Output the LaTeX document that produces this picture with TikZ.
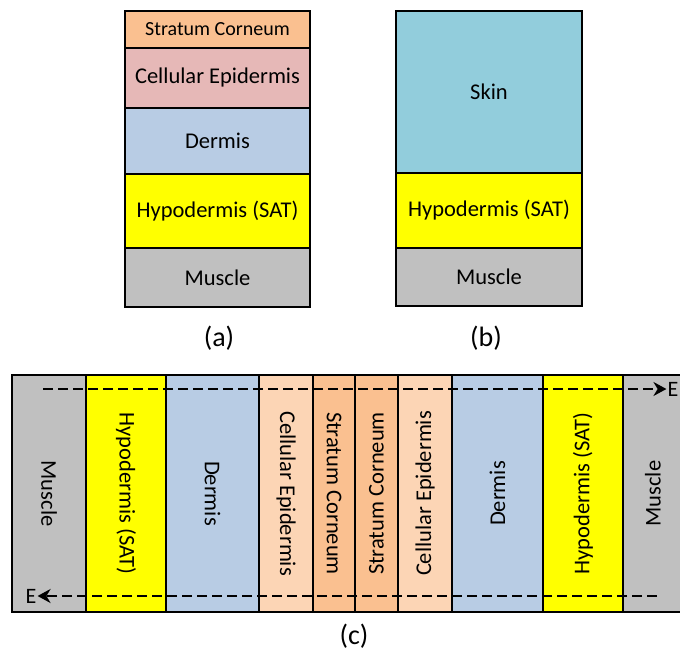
\documentclass[tikz,border=0pt]{standalone}
\usepackage{fontspec}
\setmainfont{Carlito}
\usetikzlibrary{arrows.meta, positioning}
\definecolor{stratcol}{RGB}{250, 192, 144}
\definecolor{epicol}{RGB}{230, 184, 183}
\definecolor{epilight}{RGB}{252, 213, 181}
\definecolor{dermcol}{RGB}{184, 204, 228}
\definecolor{hypocol}{RGB}{255, 255, 0}
\definecolor{musccol}{RGB}{192, 192, 192}
\definecolor{skincol}{RGB}{146, 205, 220}

\begin{document}
\begin{tikzpicture}[
    x=1pt, y=-1pt,
    layer/.style = {rectangle, draw=black, line width=2pt, inner sep=0pt,
                    text centered, font=\fontsize{22.5}{25}\selectfont},
    layerL/.style = {layer, rotate=-90, minimum width=237pt},
    layerR/.style = {layer, rotate=90, minimum width=237pt},
    caption/.style = {font=\fontsize{28}{32}\selectfont},
    efield/.style = {line width=2.6pt, dash pattern=on 10pt off 5pt, -{Stealth[length=13pt, width=14pt]}},
    elabel/.style = {font=\fontsize{22}{25}\selectfont, inner sep=1pt}
]
    \useasboundingbox (0,0) rectangle (680,655);
    \clip (0,0) rectangle (680,655);

    % (a) full layer stack
    \node[layer, fill=stratcol, minimum width=185pt, minimum height=37pt, font=\fontsize{20}{22}\selectfont] (a_strat) at (217.5,29.5) {Stratum Corneum};
    \node[layer, fill=epicol, minimum width=185pt, minimum height=60pt] (a_epi) at (217.5,78) {Cellular Epidermis};
    \node[layer, fill=dermcol, minimum width=185pt, minimum height=66pt] (a_derm) at (217.5,141) {Dermis};
    \node[layer, fill=hypocol, minimum width=185pt, minimum height=74pt] (a_hypo) at (217.5,211) {Hypodermis (SAT)};
    \node[layer, fill=musccol, minimum width=185pt, minimum height=59pt] (a_musc) at (217.5,277.5) {Muscle};
    \node[caption] (cap_a) at (219,338) {(a)};

    % (b) skin lumped together
    \node[layer, fill=skincol, minimum width=186pt, minimum height=162pt] (b_skin) at (489,92) {Skin};
    \node[layer, fill=hypocol, minimum width=186pt, minimum height=75pt] (b_hypo) at (489,210.5) {Hypodermis (SAT)};
    \node[layer, fill=musccol, minimum width=186pt, minimum height=58pt] (b_musc) at (489,277) {Muscle};
    \node[caption] (cap_b) at (486,338) {(b)};

    % (c) mirrored layers, left half
    \node[layerL, fill=musccol, minimum height=74pt] (c_musc_l) at (49,493.5) {Muscle};
    \node[layerL, fill=hypocol, minimum height=80pt] (c_hypo_l) at (126,493.5) {Hypodermis (SAT)};
    \node[layerL, fill=dermcol, minimum height=93pt] (c_derm_l) at (212.5,493.5) {Dermis};
    \node[layerL, fill=epilight, minimum height=54pt] (c_epi_l) at (286,493.5) {Cellular Epidermis};
    \node[layerL, fill=stratcol, minimum height=42pt] (c_strat_l) at (334,493.5) {Stratum Corneum};

    % (c) right half
    \node[layerR, fill=stratcol, minimum height=43pt] (c_strat_r) at (376.5,493.5) {Stratum Corneum};
    \node[layerR, fill=epilight, minimum height=54pt] (c_epi_r) at (425,493.5) {Cellular Epidermis};
    \node[layerR, fill=dermcol, minimum height=91pt] (c_derm_r) at (497.5,493.5) {Dermis};
    \node[layerR, fill=hypocol, minimum height=80pt] (c_hypo_r) at (583,493.5) {Hypodermis (SAT)};
    \node[layerR, fill=musccol, minimum height=60pt] (c_musc_r) at (653,493.5) {Muscle};
    \node[caption] (cap_c) at (354,636) {(c)};

    % E field arrows
    \coordinate (top_start) at (43,389);
    \node[elabel] (e_top) at (673,389) {E};
    \draw[efield] (top_start) -- (e_top.west);

    \coordinate (bot_start) at (657,596);
    \node[elabel] (e_bot) at (31,596) {E};
    \draw[efield] (bot_start) -- (e_bot.east);

\end{tikzpicture}
\end{document}
